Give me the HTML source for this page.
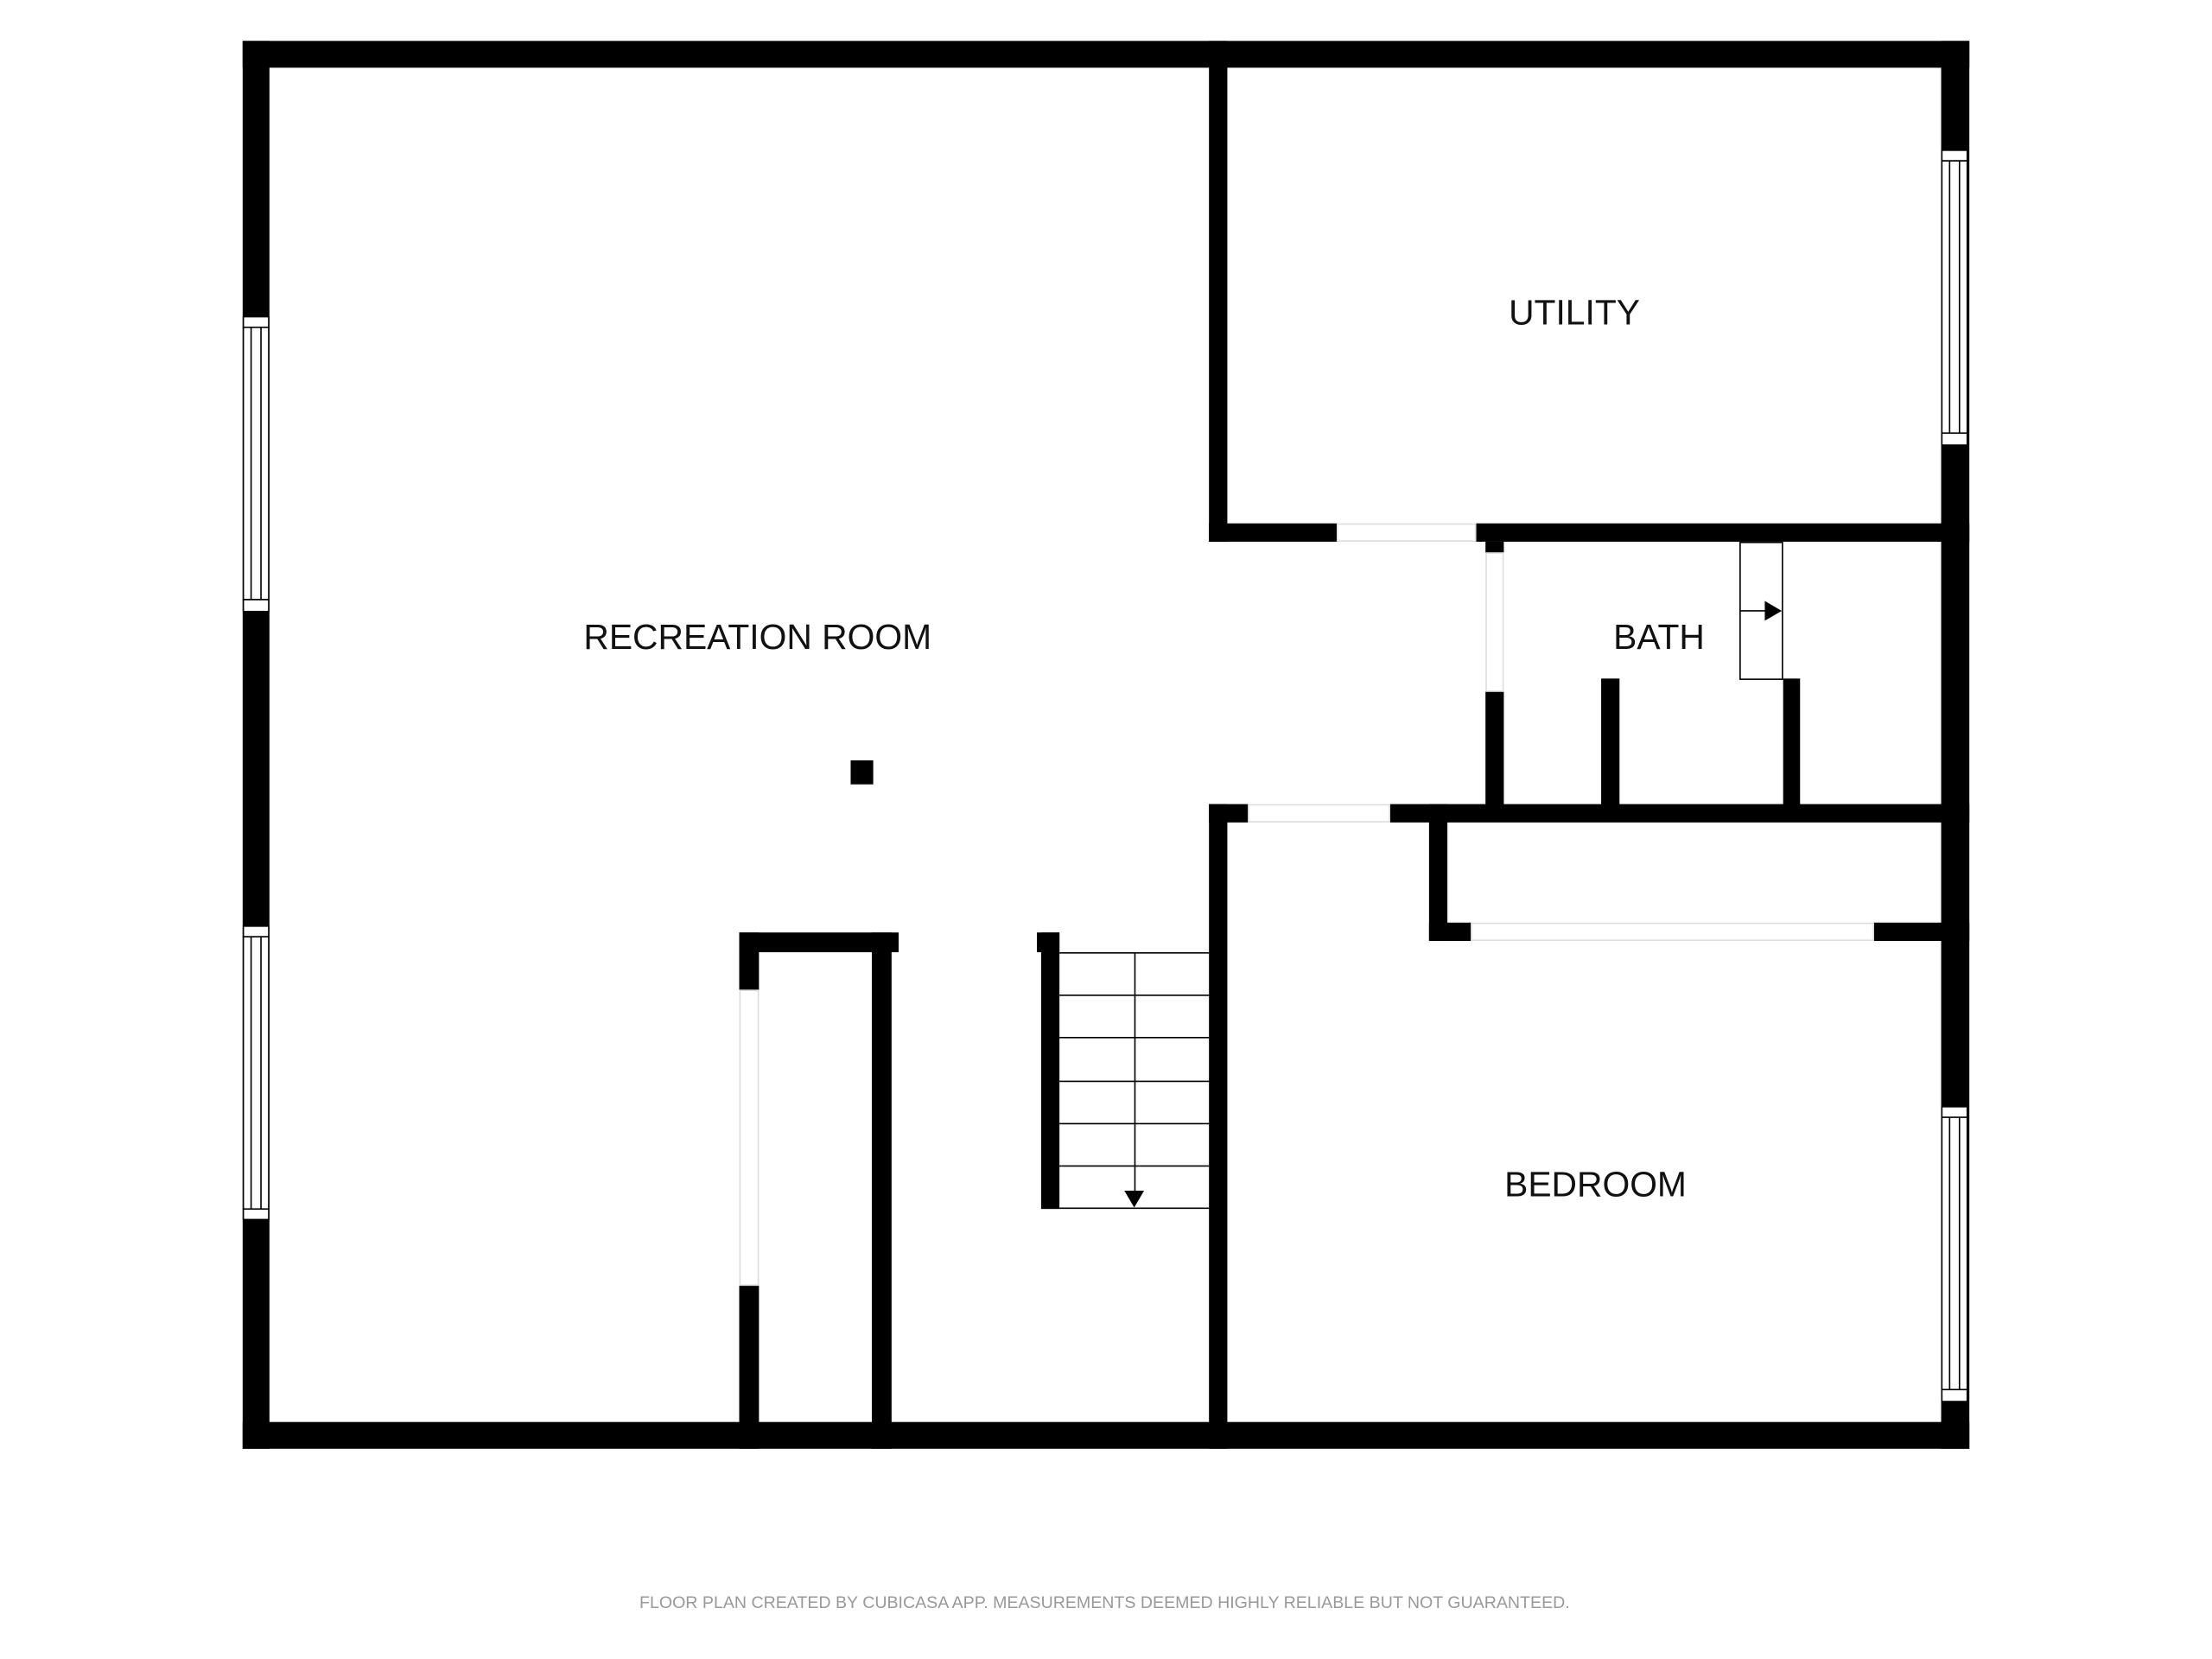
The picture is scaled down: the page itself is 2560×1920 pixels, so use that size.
<!DOCTYPE html>
<html><head><meta charset="utf-8"><style>html,body{margin:0;padding:0;background:#fff}svg{display:block}</style></head>
<body>
<svg width="2560" height="1920" viewBox="0 0 1568 1176" xmlns="http://www.w3.org/2000/svg">
<rect width="1568" height="1176" fill="#fff"/>
<g fill="#000">
<!-- outer -->
<rect x="172" y="29" width="1224" height="19"/>
<rect x="172" y="1008" width="1224" height="19"/>
<rect x="172" y="29" width="19" height="998"/>
<rect x="1376" y="29" width="20" height="998"/>
<!-- utility -->
<rect x="857" y="29" width="13" height="355"/>
<rect x="857" y="371" width="91" height="13"/>
<rect x="1046" y="371" width="350" height="13"/>
<!-- bath -->
<rect x="1053" y="384" width="13" height="8"/>
<rect x="1053" y="490" width="13" height="86"/>
<rect x="1135" y="481" width="13" height="95"/>
<rect x="1264" y="481" width="12" height="95"/>
<rect x="857" y="570" width="28" height="13"/>
<rect x="985" y="570" width="411" height="13"/>
<!-- closet -->
<rect x="1013" y="570" width="13" height="97"/>
<rect x="1013" y="654" width="30" height="13"/>
<rect x="1328" y="654" width="68" height="13"/>
<!-- bedroom left -->
<rect x="857" y="570" width="13" height="457"/>
<!-- column -->
<rect x="603" y="539" width="16" height="17"/>
<!-- under stair closet -->
<rect x="524" y="661" width="113" height="14"/>
<rect x="524" y="661" width="14" height="41"/>
<rect x="524" y="911" width="14" height="116"/>
<rect x="618" y="661" width="14" height="366"/>
<!-- stairs wall -->
<rect x="738" y="661" width="13" height="196"/>
<rect x="735" y="661" width="16" height="14"/>
</g>
<!-- door gap lines -->
<g fill="none" stroke="#ddd" stroke-width="1">
<rect x="948" y="371.5" width="98" height="12"/>
<rect x="885" y="570.5" width="100" height="12"/>
<rect x="1043" y="654.5" width="285" height="12"/>
<rect x="1053.5" y="392" width="12" height="98"/>
<rect x="524.5" y="702" width="13" height="209"/>
</g>
<!-- windows -->
<g fill="#fff" stroke="#000" stroke-width="1">
<rect x="172.5" y="224.5" width="18" height="209"/><line x1="172" y1="232" x2="191" y2="232"/><line x1="172" y1="425" x2="191" y2="425"/><line x1="178" y1="232" x2="178" y2="425"/><line x1="185" y1="232" x2="185" y2="425"/>
<rect x="172.5" y="656.5" width="18" height="208"/><line x1="172" y1="664" x2="191" y2="664"/><line x1="172" y1="857" x2="191" y2="857"/><line x1="178" y1="664" x2="178" y2="857"/><line x1="185" y1="664" x2="185" y2="857"/>
<rect x="1376.5" y="106.5" width="18" height="209"/><line x1="1376" y1="114" x2="1395" y2="114"/><line x1="1376" y1="307" x2="1395" y2="307"/><line x1="1382" y1="114" x2="1382" y2="307"/><line x1="1389" y1="114" x2="1389" y2="307"/>
<rect x="1376.5" y="784.5" width="18" height="209"/><line x1="1376" y1="792" x2="1395" y2="792"/><line x1="1376" y1="985" x2="1395" y2="985"/><line x1="1382" y1="792" x2="1382" y2="985"/><line x1="1389" y1="792" x2="1389" y2="985"/>
</g>
<!-- shower -->
<g fill="none" stroke="#000" stroke-width="1">
<rect x="1233.5" y="384.5" width="30" height="97"/>
<line x1="1233" y1="433" x2="1252" y2="433"/>
</g>
<polygon points="1251,426 1263,433 1251,440" fill="#000"/>
<!-- stairs -->
<g stroke="#000" stroke-width="1">
<line x1="751" y1="675.5" x2="857" y2="675.5"/>
<line x1="751" y1="705.5" x2="857" y2="705.5"/>
<line x1="751" y1="735.5" x2="857" y2="735.5"/>
<line x1="751" y1="766.5" x2="857" y2="766.5"/>
<line x1="751" y1="796.5" x2="857" y2="796.5"/>
<line x1="751" y1="826.5" x2="857" y2="826.5"/>
<line x1="751" y1="856.5" x2="857" y2="856.5"/>
<line x1="804.5" y1="675" x2="804.5" y2="846"/>
</g>
<polygon points="797,844 811,844 804,856" fill="#000"/>
<g font-family="'Liberation Sans',sans-serif" font-size="25" fill="#111" text-anchor="middle">
<text x="1116" y="230">UTILITY</text>
<text x="537" y="460">RECREATION ROOM</text>
<text x="1176" y="460">BATH</text>
<text x="1131" y="848">BEDROOM</text>
</g>
<text x="783" y="1140" font-family="'Liberation Sans',sans-serif" font-size="12" fill="#999" text-anchor="middle">FLOOR PLAN CREATED BY CUBICASA APP. MEASUREMENTS DEEMED HIGHLY RELIABLE BUT NOT GUARANTEED.</text>
</svg>
</body></html>
